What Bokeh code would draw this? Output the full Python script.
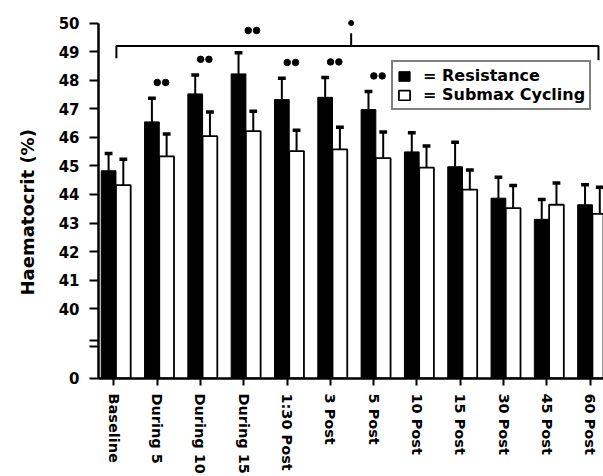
from bokeh.plotting import figure
from bokeh.models import (ColumnDataSource, Range1d, FixedTicker, Legend,
                          LegendItem, Title)
from bokeh.embed import file_html
from bokeh.resources import INLINE

# Haematocrit (%) at each time point, mean and SD
categories = ["Baseline", "During 5", "During 10", "During 15", "1:30 Post",
              "3 Post", "5 Post", "10 Post", "15 Post", "30 Post",
              "45 Post", "60 Post"]
resistance = [44.83, 46.54, 47.52, 48.22, 47.32, 47.40, 46.97, 45.49,
              44.97, 43.87, 43.13, 43.64]
resistance_sd = [0.60, 0.83, 0.66, 0.74, 0.75, 0.69, 0.63, 0.67,
                 0.86, 0.73, 0.69, 0.70]
cycling = [44.33, 45.33, 46.04, 46.22, 45.52, 45.58, 45.27, 44.94,
           44.17, 43.52, 43.64, 43.32]
cycling_sd = [0.90, 0.79, 0.85, 0.69, 0.73, 0.77, 0.92, 0.76,
              0.69, 0.79, 0.76, 0.93]
# time points marked "••" above the resistance bar
sig_points = ["During 5", "During 10", "1:30 Post", "3 Post", "5 Post"]
y_ticks = [40, 41, 42, 43, 44, 45, 46, 47, 48, 49, 50]

FONT = "DejaVu Sans"
# the value axis is broken: 0 sits a short way below 40
ZERO_POS = 37.56
BREAK_MARKS = [38.67, 38.878]

BAR_W = 0.34
OFF_R = -0.12
OFF_C = 0.22

idx = list(range(len(categories)))
src_r = ColumnDataSource(dict(
    x=[i + OFF_R for i in idx], top=resistance,
    hi=[m + s for m, s in zip(resistance, resistance_sd)]))
src_c = ColumnDataSource(dict(
    x=[i + OFF_C for i in idx], top=cycling,
    hi=[m + s for m, s in zip(cycling, cycling_sd)]))

p = figure(width=603, height=476, output_backend="svg", toolbar_location=None,
           x_range=Range1d(-0.353, 11.306), y_range=Range1d(ZERO_POS - 0.001, 50.684),
           min_border_left=97, min_border_right=0, min_border_top=3,
           min_border_bottom=95)
p.outline_line_color = None
p.grid.visible = False
p.background_fill_color = "white"

rb = p.vbar(x="x", top="top", bottom=ZERO_POS, width=BAR_W, source=src_r,
            fill_color="black", line_color="black", line_width=1)
rc = p.vbar(x="x", top="top", bottom=ZERO_POS, width=BAR_W, source=src_c,
            fill_color="white", line_color="black", line_width=1.8)

# error bars: stem plus a heavy cap
CAP = 0.09
for src in (src_r, src_c):
    p.segment(x0="x", y0="top", x1="x", y1="hi", source=src,
              line_color="black", line_width=2)
    d = src.data
    p.segment(x0=[x - CAP for x in d["x"]], y0=d["hi"],
              x1=[x + CAP for x in d["x"]], y1=d["hi"],
              line_color="black", line_width=3.5)

# significance dots above the resistance bars
DOT_DX = 0.096
sx, sy = [], []
for name in sig_points:
    i = categories.index(name)
    y = resistance[i] + resistance_sd[i] + 0.55
    sx += [i + 0.1 - DOT_DX, i + 0.1 + DOT_DX]
    sy += [y, y]
p.scatter(sx, sy, size=6.5, color="black")

# bracket across the whole time course
BR_Y = 49.2
p.line([0.06, 0.06, 11.19, 11.19], [48.77, BR_Y, BR_Y, 48.7],
       line_color="black", line_width=2)
p.segment(x0=[5.48], y0=[BR_Y], x1=[5.48], y1=[49.64],
          line_color="black", line_width=2)
p.scatter([5.48], [50.0], size=5, color="black")
p.scatter([3.2 - DOT_DX, 3.2 + DOT_DX], [49.74, 49.74], size=6.5, color="black")

# x axis
xa = p.xaxis[0]
xa.ticker = FixedTicker(ticks=idx)
xa.major_label_overrides = {i: c for i, c in enumerate(categories)}
xa.major_label_orientation = "vertical"
xa.major_label_text_font = FONT
xa.major_label_text_font_style = "bold"
xa.major_label_text_font_size = "14.5px"
xa.major_label_text_color = "black"
xa.major_label_standoff = 8
xa.axis_line_width = 2.5
xa.axis_line_color = "black"
xa.major_tick_out = 7
xa.major_tick_in = 0
xa.major_tick_line_width = 2
xa.minor_tick_line_color = None

# y axis with break marks
ya = p.yaxis[0]
ya.ticker = FixedTicker(ticks=[ZERO_POS] + y_ticks, minor_ticks=BREAK_MARKS)
ya.major_label_overrides = {ZERO_POS: "0"}
ya.bounds = (ZERO_POS, 50)
ya.major_label_text_font = FONT
ya.major_label_text_font_style = "bold"
ya.major_label_text_font_size = "15px"
ya.major_label_text_color = "black"
ya.major_label_standoff = 10
ya.axis_line_width = 2.5
ya.axis_line_color = "black"
ya.major_tick_out = 9
ya.major_tick_in = 0
ya.major_tick_line_width = 2
ya.minor_tick_out = 9
ya.minor_tick_in = 0
ya.minor_tick_line_width = 2
ya.minor_tick_line_color = "black"

# value axis title, set lower than the frame centre
p.add_layout(Title(text="Haematocrit (%)", align="left", offset=83,
                   vertical_align="top", standoff=32,
                   text_font=FONT, text_font_style="bold",
                   text_font_size="18px", text_color="black"), "left")

legend = Legend(items=[LegendItem(label="= Resistance", renderers=[rb]),
                       LegendItem(label="= Submax Cycling", renderers=[rc])],
                location=(293, 268))
legend.border_line_color = "black"
legend.border_line_width = 2
legend.background_fill_color = "white"
legend.background_fill_alpha = 1
legend.padding = 4
legend.spacing = 0
legend.margin = 0
legend.label_height = 16
legend.glyph_height = 12
legend.glyph_width = 14
legend.label_standoff = 12
legend.label_text_font = FONT
legend.label_text_font_style = "bold"
legend.label_text_font_size = "16px"
legend.label_text_color = "black"
p.add_layout(legend)

open("out.html", "w").write(file_html(p, INLINE))
